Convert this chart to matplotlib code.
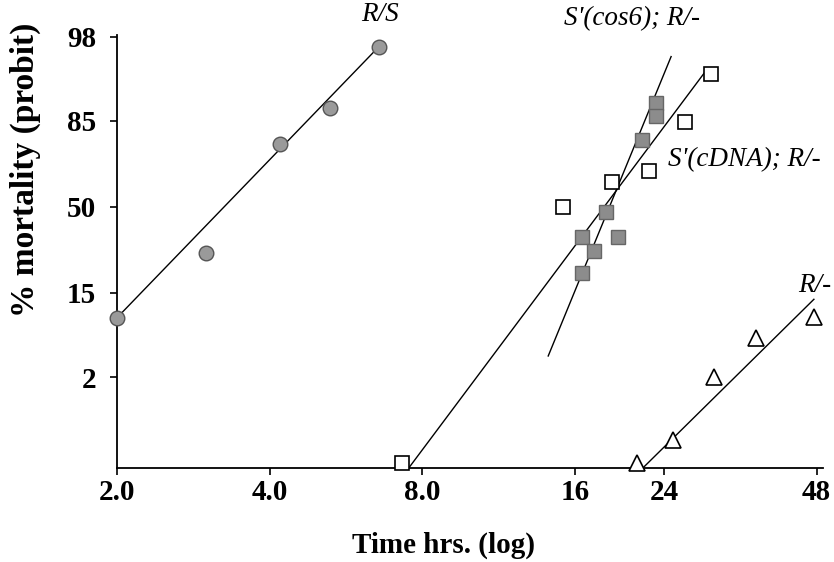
import numpy as np
import matplotlib
matplotlib.use("Agg")
import matplotlib.pyplot as plt
from matplotlib.ticker import FixedLocator, FixedFormatter, NullLocator
from statistics import NormalDist

# ---------------- data (time in hours, mortality in %) ----------------
rs_time = [2.0, 3.0, 4.2, 5.27, 6.56]
rs_mort = [9.1, 29.0, 77.6, 88.4, 97.3]
rs_fit_time = [2.0, 6.56]
rs_fit_mort = [9.1, 97.3]

cos6_time = [16.5, 16.5, 17.47, 18.45, 19.46, 21.76, 23.12, 23.12]
cos6_mort = [36.0, 21.2, 29.8, 47.6, 36.0, 79.0, 89.5, 86.3]
cos6_fit_time = [14.18, 24.78]
cos6_fit_mort = [3.63, 96.5]

cdna_time = [7.30, 15.16, 18.94, 22.46, 26.4, 29.7]
cdna_mort = [0.1, 50.1, 62.0, 66.9, 84.6, 94.5]
cdna_fit_time = [7.54, 28.9]
cdna_fit_mort = [0.085, 94.8]

rminus_time = [21.2, 25.04, 30.1, 36.4, 47.4]
rminus_mort = [0.1, 0.25, 2.04, 5.7, 9.3]
rminus_fit_time = [21.85, 47.4]
rminus_fit_mort = [0.085, 13.3]

x_ticks = [2.0, 4.0, 8.0, 16, 24, 48]
x_ticklabels = ["2.0", "4.0", "8.0", "16", "24", "48"]
y_ticks = [98, 85, 50, 15, 2]
y_ticklabels = ["98", "85", "50", "15", "2"]

nd = NormalDist()
def probit(p):
    return [nd.inv_cdf(v / 100.0) for v in p]

plt.rcParams['font.family'] = ['Liberation Serif', 'DejaVu Serif']

fig = plt.figure(figsize=(8.34, 5.62), dpi=100)
ax = fig.add_axes([117/834, 1 - 468/562, 706/834, 433/562])
ax.set_xscale('log')
ax.set_xlim(2.0, 49.4)
ax.set_ylim(-3.145, 2.072)

lw = 1.0
ax.plot(rs_fit_time, probit(rs_fit_mort), color='black', lw=lw, zorder=2)
ax.plot(cos6_fit_time, probit(cos6_fit_mort), color='black', lw=lw, zorder=2)
ax.plot(cdna_fit_time, probit(cdna_fit_mort), color='black', lw=lw, zorder=2)
ax.plot(rminus_fit_time, probit(rminus_fit_mort), color='black', lw=lw, zorder=2)

ax.plot(rs_time, probit(rs_mort), 'o', ms=10.5, mfc='#9a9a9a', mec='#555555',
        mew=1.0, clip_on=False, zorder=3)
ax.plot(cdna_time, probit(cdna_mort), 's', ms=10.5, mfc='white', mec='black',
        mew=1.2, clip_on=False, zorder=3)
ax.plot(cos6_time, probit(cos6_mort), 's', ms=10, mfc='#8c8c8c', mec='#666666',
        mew=1.0, clip_on=False, zorder=4)
ax.plot(rminus_time, probit(rminus_mort), '^', ms=11, mfc='white', mec='black',
        mew=1.2, clip_on=False, zorder=3)

# axes styling
for s in ['top', 'right']:
    ax.spines[s].set_visible(False)
for s in ['left', 'bottom']:
    ax.spines[s].set_linewidth(1.3)

ax.xaxis.set_major_locator(FixedLocator(x_ticks))
ax.xaxis.set_major_formatter(FixedFormatter(x_ticklabels))
ax.xaxis.set_minor_locator(NullLocator())
ax.yaxis.set_major_locator(FixedLocator(probit(y_ticks)))
ax.yaxis.set_major_formatter(FixedFormatter(y_ticklabels))
ax.yaxis.set_minor_locator(NullLocator())
ax.tick_params(axis='both', direction='out', length=5, width=1.2, labelsize=21)
ax.tick_params(axis='y', pad=10)
ax.tick_params(axis='x', pad=3)
for lab in ax.get_xticklabels() + ax.get_yticklabels():
    lab.set_fontweight('bold')

fig.text(443/834, 1 - 545/562, "Time hrs. (log)", fontsize=21, fontweight='bold',
         ha='center', va='center')
fig.text(25/834, 1 - 170/562, "% mortality (probit)", fontsize=24, fontweight='bold',
         ha='center', va='center', rotation=90)

tkw = dict(fontsize=19.5, style='italic', clip_on=False)
ax.text(6.61, 2.313, "R/S", ha='center', va='center', **tkw)
ax.text(20.73, 2.265, "S'(cos6); R/-", ha='center', va='center', **tkw)
ax.text(24.45, 0.575, "S'(cDNA); R/-", ha='left', va='center', **tkw)
ax.text(47.6, -0.952, "R/-", ha='center', va='center', **tkw)

fig.savefig("out.png", dpi=100)
